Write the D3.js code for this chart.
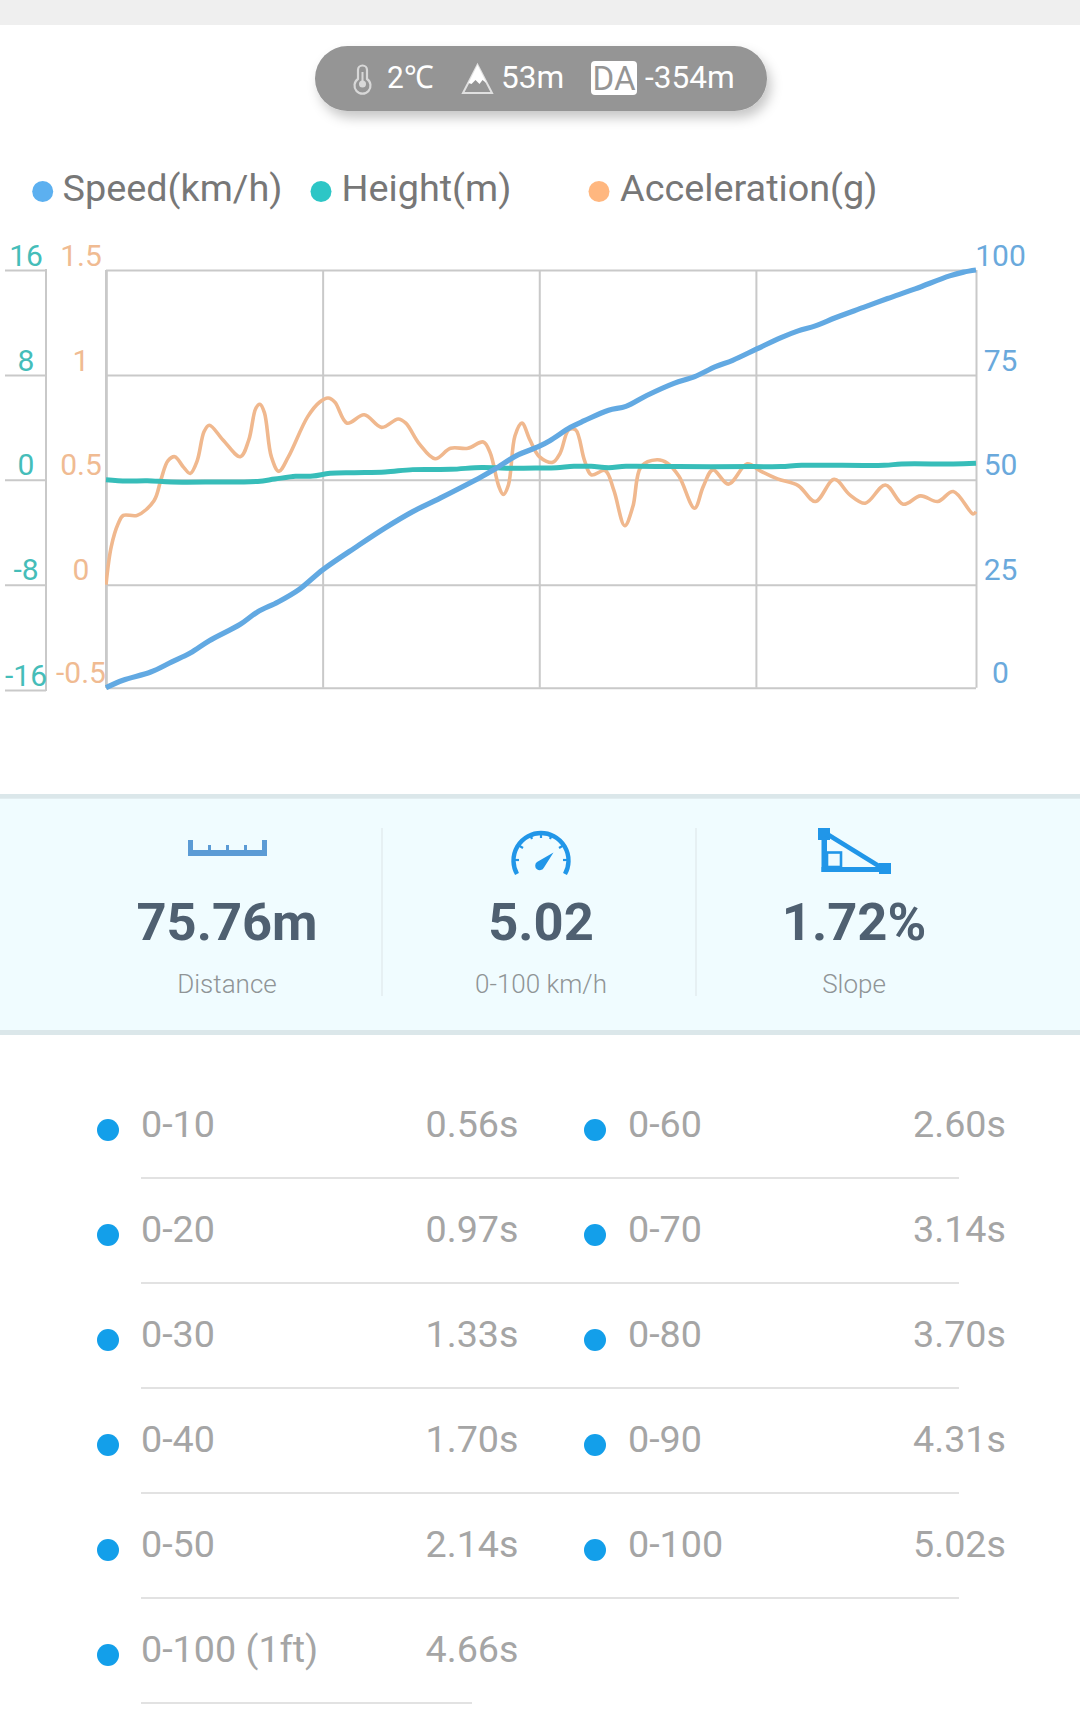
<!DOCTYPE html>
<html><head><meta charset="utf-8">
<script src="https://cdn.jsdelivr.net/npm/d3@7"></script>
<style>
html,body{margin:0;padding:0;background:#fff;overflow:hidden}
text{font-family:Roboto,sans-serif}
</style></head><body><svg id="c" width="1080" height="1709"></svg>
<script>
// --- data ---
const speedTime=[0,.098,.258,.377,.486,.596,.775,.874,.993,1.113,1.252,1.451,1.61,1.77,1.928,2.167,2.247,2.366,2.501,2.561,2.68,2.76,2.9,3.0,3.12,3.277,3.397,3.517,3.616,3.755,3.895,3.994,4.093,4.212,4.371,4.51,4.669,4.868,4.948,5.02];
const speedValues=[0,1.8,3.8,6.2,8.4,11.4,15.4,18.4,20.8,23.8,28.6,34.2,38.5,42.4,45.6,50.7,52.6,55.7,58,59.3,62.5,64.1,66.6,67.5,70.1,73,74.6,77,78.5,81.2,83.9,85.5,86.7,88.7,91.1,93.2,95.5,98.6,99.5,100];
const heightTime=[0,.119,.238,.377,.616,.875,.974,1.094,1.193,1.293,1.432,1.611,1.77,1.989,2.168,2.327,2.501,2.6,2.7,2.8,2.9,3.0,3.3,3.735,3.895,4.014,4.49,4.59,4.888,5.02];
const heightValues=[0,-.1,-.08,-.18,-.18,-.13,.05,.26,.28,.49,.54,.59,.77,.79,.94,.87,.89,.92,1.02,1.02,.92,1.02,1,1,1,1.1,1.1,1.2,1.2,1.25];
const accelTime=[0,.03,.07,.10,.18,.277,.317,.357,.397,.447,.486,.526,.566,.596,.675,.775,.824,.864,.888,.914,.954,.997,1.053,1.163,1.232,1.282,1.321,1.391,1.49,1.59,1.686,1.73,1.809,1.899,1.988,2.088,2.177,2.216,2.266,2.292,2.322,2.36,2.4,2.446,2.5,2.577,2.62,2.67,2.71,2.76,2.8,2.88,2.93,2.993,3.04,3.088,3.18,3.24,3.307,3.396,3.446,3.502,3.591,3.7,3.775,3.875,3.994,4.093,4.202,4.292,4.381,4.497,4.6,4.7,4.799,4.889,5.003,5.02];
const accelValues=[0,.18,.29,.33,.33,.40,.50,.59,.61,.56,.53,.59,.73,.76,.69,.61,.69,.84,.86,.82,.61,.54,.61,.80,.87,.89,.87,.77,.81,.75,.79,.77,.67,.60,.65,.65,.68,.63,.47,.43,.475,.71,.77,.69,.61,.583,.626,.738,.738,.595,.523,.544,.45,.281,.372,.563,.595,.579,.515,.364,.467,.547,.479,.576,.542,.504,.472,.396,.502,.428,.388,.475,.383,.423,.396,.444,.337,.348];
const speedTicks=[0,25,50,75,100];
const heightTicks=[-16,-8,0,8,16];
const accelTicks=[-.5,0,.5,1,1.5];
const timeGrid=[0,1.25,2.5,3.75,5.02];
const legendNames=["Speed(km/h)","Height(m)","Acceleration(g)"];
const statValues=["75.76m","5.02","1.72%"];
const statLabels=["Distance","0-100 km/h","Slope"];
const leftRows=["0-10","0-20","0-30","0-40","0-50","0-100 (1ft)"];
const leftTimes=["0.56s","0.97s","1.33s","1.70s","2.14s","4.66s"];
const rightRows=["0-60","0-70","0-80","0-90","0-100"];
const rightTimes=["2.60s","3.14s","3.70s","4.31s","5.02s"];

const svg=d3.select("#c");
const C={blue:"#62a9e2",teal:"#37bdb9",orange:"#f0b88e",tBlue:"#6aa9dc",tTeal:"#45bdb9",tOrange:"#f0bb92",grid:"#c9c9c9"};

// top bar
svg.append("rect").attr("width",1080).attr("height",25).attr("fill","#efefef");

// pill
const defs=svg.append("defs");
const f=defs.append("filter").attr("id","sh").attr("x","-10%").attr("y","-30%").attr("width","120%").attr("height","170%");
f.append("feDropShadow").attr("dx",4).attr("dy",7).attr("stdDeviation",6).attr("flood-color","#000").attr("flood-opacity",.22);
svg.append("rect").attr("x",315).attr("y",46).attr("width",452).attr("height",65).attr("rx",32.5).attr("fill","#959595").attr("filter","url(#sh)");
const pillText=(x,t)=>svg.append("text").attr("x",x).attr("y",88.3).attr("font-size",31.6).attr("fill","#fff").text(t);
pillText(387,"2℃").attr("textLength",46).attr("lengthAdjust","spacingAndGlyphs");pillText(501,"53m");pillText(645,"-354m");
// thermometer
svg.append("path").attr("d","M358 70a4.5 4.5 0 0 1 9 0v9a8 8 0 1 1-9 0z").attr("fill","none").attr("stroke","#d8d8d8").attr("stroke-width",2.2);
svg.append("circle").attr("cx",362.5).attr("cy",84).attr("r",3.5).attr("fill","#d8d8d8");
svg.append("path").attr("d","M362.5 72v12").attr("stroke","#d8d8d8").attr("stroke-width",2);
// mountain
svg.append("path").attr("d","M477.5 65L492 93H463Z").attr("fill","none").attr("stroke","#e0e0e0").attr("stroke-width",2);
svg.append("path").attr("d","M477.5 65L486.5 83L482.5 80L479.5 84L475.5 80L471.5 84L468.5 83Z").attr("fill","#fff");
// DA
svg.append("rect").attr("x",591).attr("y",61).attr("width",46).attr("height",34).attr("rx",4).attr("fill","#fff");
svg.append("text").attr("x",614).attr("y",90).attr("text-anchor","middle").attr("font-size",34).attr("fill","#959595").attr("textLength",43).attr("lengthAdjust","spacingAndGlyphs").text("DA");

// legend
const legendDotX=[42.7,321,599],legendTextX=[62.5,341.5,620],legendCols=["#5cb0f0","#2dc6c6","#ffb77f"];
legendNames.forEach((n,i)=>{
  svg.append("circle").attr("cx",legendDotX[i]).attr("cy",191.5).attr("r",10.5).attr("fill",legendCols[i]);
  svg.append("text").attr("x",legendTextX[i]).attr("y",200.5).attr("font-size",37.8).attr("fill","#777").text(n);
});

// chart scales
const X0=106,X1=976,Ys=[687.7,584.7,479.7,375,270];
const x=d3.scaleLinear().domain([0,5.02]).range([X0,X1]);
const ySpeed=d3.scaleLinear().domain(speedTicks).range(Ys);
const yHeight=d3.scaleLinear().domain(heightTicks).range(Ys);
const yAccel=d3.scaleLinear().domain(accelTicks).range(Ys);
const yHeightAxis=d3.scaleLinear().domain(heightTicks).range([690,584.7,479.7,375,270]);

// grid from axes
const gridStyle=g=>{g.select(".domain").remove();g.selectAll("line").attr("stroke",C.grid).attr("stroke-width",2);g.selectAll("text").remove();};
svg.append("g").attr("transform",`translate(${X0},0)`).call(d3.axisRight(ySpeed).tickValues(speedTicks).tickSize(X1-X0)).call(gridStyle);
svg.append("g").attr("transform",`translate(0,${Ys[4]})`).call(d3.axisBottom(x).tickValues(timeGrid).tickSize(Ys[0]-Ys[4])).call(gridStyle);
svg.append("rect").attr("x",X0-1).attr("y",270).attr("width",2.6).attr("height",418).attr("fill",C.grid);

// left height axis rule + ticks
svg.append("g").attr("transform","translate(46,0)").call(d3.axisLeft(yHeightAxis).tickValues(heightTicks).tickSize(41)).call(gridStyle);
svg.append("line").attr("x1",46).attr("x2",46).attr("y1",269).attr("y2",691).attr("stroke",C.grid).attr("stroke-width",2);

// axis labels
const labelAxis=(scale,ticks,cx,col,fmt)=>{
  const g=svg.append("g").attr("transform",`translate(${cx},0)`).call(d3.axisLeft(scale).tickValues(ticks).tickSize(0).tickPadding(0).tickFormat(fmt));
  g.select(".domain").remove();
  g.selectAll("line").remove();
  g.selectAll("text").attr("x",0).attr("dy",0).attr("y",-5).attr("text-anchor","middle").attr("font-size",30).attr("font-family","Roboto,sans-serif").attr("fill",col);
};
labelAxis(yHeightAxis,heightTicks,26,C.tTeal,d=>String(d));
labelAxis(yAccel,accelTicks,81,C.tOrange,d=>String(d));
labelAxis(ySpeed,speedTicks,1000.5,C.tBlue,d=>String(d));

// lines
const clipId=defs.append("clipPath").attr("id","pc");clipId.append("rect").attr("x",X0-1).attr("y",267).attr("width",X1-X0+2).attr("height",423);
const lines=svg.append("g").attr("clip-path","url(#pc)");
const draw=(ts,vs,y,col,w)=>{
  const l=d3.line().x(d=>x(d[0])).y(d=>y(d[1])).curve(d3.curveCatmullRom.alpha(.5));
  lines.append("path").datum(d3.zip(ts,vs)).attr("d",l).attr("fill","none").attr("stroke",col).attr("stroke-width",w).attr("stroke-linejoin","round");
};
draw(accelTime,accelValues,yAccel,C.orange,3.6);
draw(heightTime,heightValues,yHeight,C.teal,5);
draw(speedTime,speedValues,ySpeed,C.blue,5.2);

// stats band
svg.append("rect").attr("x",0).attr("y",794).attr("width",1080).attr("height",241).attr("fill","#dbe7ea");
svg.append("rect").attr("x",0).attr("y",798.7).attr("width",1080).attr("height",231.3).attr("fill","#f0fcff");
[382,696].forEach(d=>svg.append("line").attr("x1",d).attr("x2",d).attr("y1",828).attr("y2",996).attr("stroke","#e3ecef").attr("stroke-width",1.5));
const statX=[227,541,854];
statValues.forEach((v,i)=>{
  svg.append("text").attr("x",statX[i]).attr("y",940).attr("text-anchor","middle").attr("font-size",52.5).attr("font-weight",700).attr("fill","#4f6071").text(v);
  svg.append("text").attr("x",statX[i]).attr("y",993).attr("text-anchor","middle").attr("font-size",26).attr("font-weight",300).attr("fill","#8f9496").text(statLabels[i]);
});
// ruler icon
svg.append("path").attr("d","M188 840h5v10h15v-5h3v5h15v-5h3v5h15v-5h3v5h15v-10h5v16h-79z").attr("fill","#5b9bd5");
// gauge icon
const gc="#2196e8";
svg.append("path").attr("d","M517 874A27.5 27.5 0 1 1 565 874").attr("fill","none").attr("stroke",gc).attr("stroke-width",4.4);
[[513.5,860,519,860],[518,845,523,848],[530,834,532,839],[541,832,541,838],[552,834,550,839],[564,845,559,848],[568.5,860,563,860]].forEach(a=>svg.append("line").attr("x1",a[0]).attr("y1",a[1]).attr("x2",a[2]).attr("y2",a[3]).attr("stroke",gc).attr("stroke-width",2.2));
svg.append("path").attr("d","M553.5 852.5L544 867.5A4.6 4.6 0 1 1 537 862Z").attr("fill",gc);
// slope icon
svg.append("rect").attr("x",818).attr("y",828).attr("width",12).attr("height",12).attr("fill",gc);
svg.append("rect").attr("x",879).attr("y",863).attr("width",12).attr("height",11).attr("fill",gc);
svg.append("rect").attr("x",821.5).attr("y",838).attr("width",5.5).attr("height",34).attr("fill",gc);
svg.append("rect").attr("x",821.5).attr("y",867).attr("width",59).attr("height",5).attr("fill",gc);
svg.append("line").attr("x1",827).attr("y1",834).attr("x2",882).attr("y2",868).attr("stroke",gc).attr("stroke-width",4.5);
svg.append("rect").attr("x",827).attr("y",852.5).attr("width",14).attr("height",14.5).attr("fill","none").attr("stroke",gc).attr("stroke-width",2.6);

// list
const dotC="#139fea",txt="#a5a5a5";
const row=(i,lx,dx,rx,label,val,sepEnd)=>{
  const b=1137.1+i*105;
  svg.append("circle").attr("cx",dx).attr("cy",1130+i*105).attr("r",11).attr("fill",dotC);
  svg.append("text").attr("x",lx).attr("y",b).attr("font-size",37.7).attr("fill",txt).text(label);
  svg.append("text").attr("x",rx).attr("y",b).attr("text-anchor","end").attr("font-size",37.7).attr("fill",txt).text(val);
  svg.append("line").attr("x1",lx).attr("x2",sepEnd).attr("y1",1178+i*105).attr("y2",1178+i*105).attr("stroke","#e2e2e2").attr("stroke-width",2);
};
leftRows.forEach((r,i)=>row(i,141,108,518.5,r,leftTimes[i],i==5?472:959));
rightRows.forEach((r,i)=>row(i,628,595,1006,r,rightTimes[i],959));
</script></body></html>
